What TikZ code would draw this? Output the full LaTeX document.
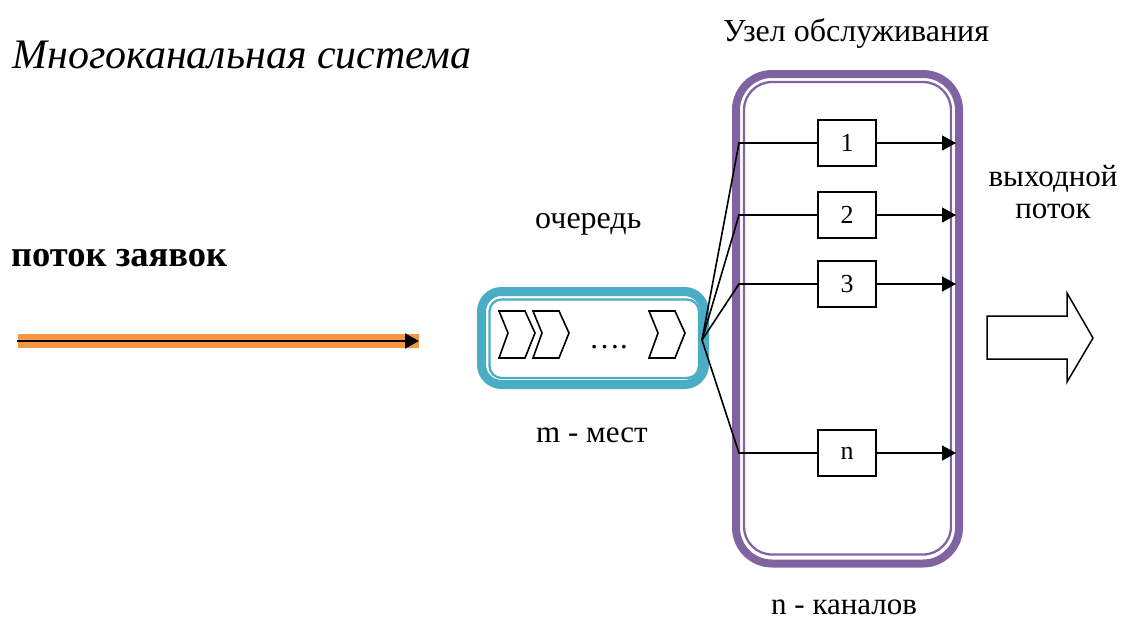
\documentclass[tikz,border=0pt]{standalone}
\usepackage{fontspec}
\setmainfont{Liberation Serif}
\usetikzlibrary{arrows.meta}
\definecolor{aqua}{HTML}{4BACC6}
\definecolor{purp}{HTML}{8064A2}
\definecolor{orng}{HTML}{F79646}
\begin{document}
\begin{tikzpicture}[x=1pt,y=-1pt,
  txt/.style={inner sep=0pt, anchor=base west, font=\fontsize{31}{36}\selectfont},
  chan/.style={draw, line width=1.5pt, minimum width=58pt, minimum height=46pt, inner sep=0pt, font=\fontsize{26}{30}\selectfont},
  wire/.style={line width=1.6pt},
  tipped/.style={-{Triangle[length=14pt,width=15pt]}},
  chev/.style={line width=1.6pt, line join=miter}]
\useasboundingbox (0,0) rectangle (1125,619);

% texts
\node[txt, font=\fontsize{42}{50}\selectfont\itshape] (title) at (12,68) {Многоканальная система};
\node[txt, font=\fontsize{32}{36}\selectfont] (uzel) at (723,41) {Узел обслуживания};
\node[txt, font=\fontsize{36.5}{40}\selectfont\bfseries] (potok) at (11,266) {поток заявок};
\node[txt, font=\fontsize{32}{36}\selectfont] (och) at (535,228) {очередь};
\node[txt] (mest) at (536,442) {m - мест};
\node[txt] (kan) at (771,614) {n - каналов};
\node[inner sep=0pt, anchor=base, align=center, font=\fontsize{31}{32}\selectfont] (vyh) at (1053,218) {выходной\\поток};

% input stream
\coordinate (in0) at (17,341);
\coordinate (in1) at (419,341);
\draw[orng, line width=14pt] (18,341) -- (419,341);
\draw[wire, line width=2.6pt, tipped] (in0) -- (in1);

% queue
\node (queue) [draw=aqua, line width=9pt, rounded corners=20pt, minimum width=223pt, minimum height=93pt, inner sep=0pt] at (593,338) {};
\draw[aqua, line width=2.3pt, rounded corners=12pt] (489.5,299.5) rectangle (699,378);
\foreach \cx in {499,533,649}{
  \draw[chev] (\cx,311) -- ++(26,0) -- ++(10,22) -- ++(-10,25) -- ++(-26,0) -- ++(9,-25) -- cycle;
}
\node[txt] (dots) at (589,348) {….};

% service node
\node (hub) [draw=purp, line width=8pt, rounded corners=36pt, minimum width=223pt, minimum height=489.5pt, inner sep=0pt] at (847.5,318.75) {};
\draw[purp, line width=2.3pt, rounded corners=28pt] (744,82) rectangle (951,554.5);

% channels
\coordinate (q) at (702,340);
\foreach \n/\lab/\y in {1/1/143, 2/2/215, 3/3/284, n/n/453}{
  \node[chan, fill=white] (b\n) at (847,\y) {\lab};
  \coordinate (k\n) at (739,\y);
  \coordinate (e\n) at (956,\y);
  \draw[wire] (q) -- (k\n) -- (b\n);
  \draw[wire, tipped] (b\n) -- (e\n);
}

% output arrow
\draw[line width=1.5pt, line join=miter] (987,316) -- (1067,316) -- (1067,293) -- (1093,338) -- (1067,382) -- (1067,359) -- (987,359) -- cycle;
\end{tikzpicture}
\end{document}
